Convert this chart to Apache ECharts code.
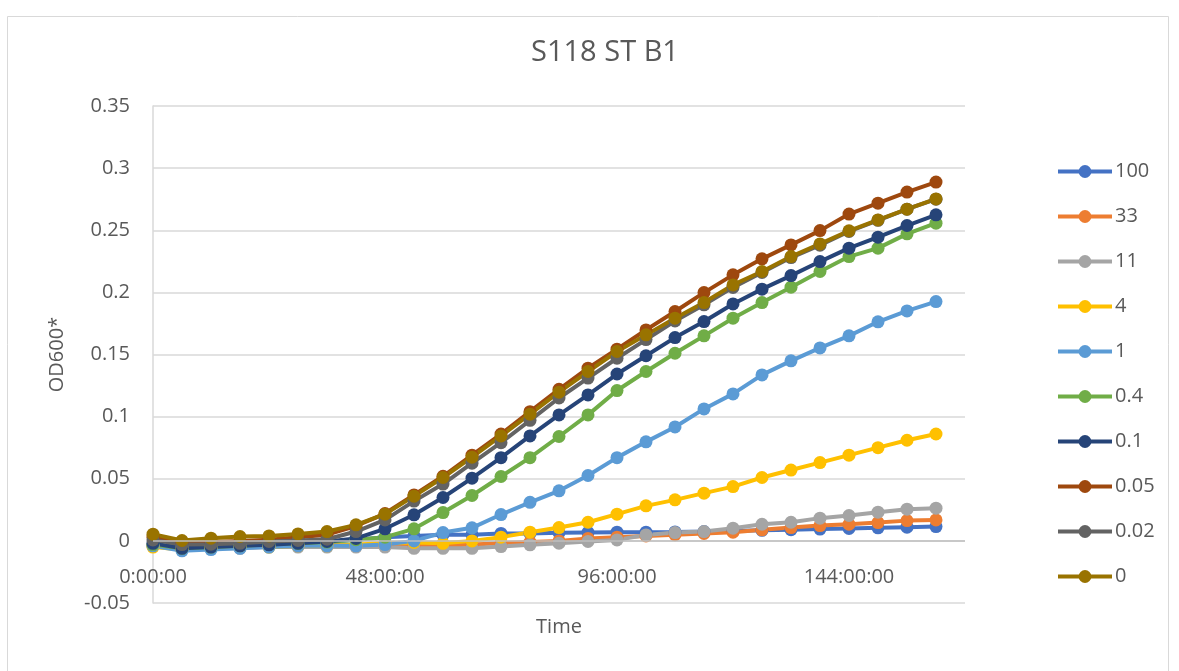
<!DOCTYPE html>
<html>
<head>
<meta charset="utf-8">
<script src="https://cdn.jsdelivr.net/npm/echarts@6/dist/echarts.min.js"></script>
<style>
  html, body { margin: 0; padding: 0; background: #ffffff; }
  #chart { width: 1179px; height: 671px; }
</style>
</head>
<body>
<div id="chart"></div>
<script>
// Sampling times in hours (every 6 h)
const hours = [0, 6, 12, 18, 24, 30, 36, 42, 48, 54, 60, 66, 72, 78, 84, 90, 96, 102, 108, 114, 120, 126, 132, 138, 144, 150, 156, 162];

const seriesNames = ['100', '33', '11', '4', '1', '0.4', '0.1', '0.05', '0.02', '0'];
const seriesColors = ['#4472C4', '#ED7D31', '#A5A5A5', '#FFC000', '#5B9BD5', '#70AD47', '#264478', '#9E480E', '#636363', '#997300'];

const od100 = [-0.003, -0.005, -0.004, -0.003, -0.003, -0.002, -0.001, 0.001, 0.003, 0.004, 0.005, 0.005, 0.006, 0.006, 0.0065, 0.0068, 0.007, 0.007, 0.0072, 0.0075, 0.008, 0.0085, 0.009, 0.0095, 0.010, 0.0105, 0.011, 0.0115];
const od33 = [-0.004, -0.006, -0.005, -0.004, -0.004, -0.003, -0.003, -0.004, -0.004, -0.004, -0.004, -0.003, -0.002, -0.001, 0.000, 0.002, 0.003, 0.004, 0.005, 0.006, 0.007, 0.0089, 0.0107, 0.0123, 0.0134, 0.0147, 0.0163, 0.0169];
const od11 = [-0.004, -0.007, -0.006, -0.006, -0.005, -0.005, -0.005, -0.005, -0.005, -0.006, -0.006, -0.006, -0.0046, -0.0032, -0.0019, -0.0005, 0.0008, 0.0048, 0.0067, 0.0075, 0.0102, 0.0134, 0.015, 0.0183, 0.0204, 0.0231, 0.0255, 0.0263];
const od4 = [-0.005, -0.007, -0.006, -0.005, -0.005, -0.004, -0.004, -0.003, -0.002, -0.0013, -0.002, 0.000, 0.003, 0.007, 0.0107, 0.015, 0.0215, 0.0282, 0.033, 0.0384, 0.0437, 0.051, 0.057, 0.063, 0.069, 0.075, 0.081, 0.086];
const od1 = [-0.004, -0.008, -0.007, -0.006, -0.005, -0.004, -0.004, -0.004, -0.003, 0.000, 0.0067, 0.0105, 0.0212, 0.031, 0.0403, 0.0526, 0.067, 0.0797, 0.0917, 0.1062, 0.1183, 0.1336, 0.1449, 0.1553, 0.165, 0.1763, 0.1851, 0.1926];
const od04 = [-0.003, -0.006, -0.005, -0.004, -0.003, -0.002, -0.001, 0.001, 0.003, 0.0097, 0.0228, 0.0365, 0.0518, 0.067, 0.084, 0.1014, 0.121, 0.1363, 0.151, 0.165, 0.1792, 0.1918, 0.2042, 0.2168, 0.2288, 0.2356, 0.2471, 0.2557];
const od01 = [-0.002, -0.006, -0.005, -0.004, -0.0032, -0.002, -0.0005, 0.002, 0.0097, 0.021, 0.0349, 0.0505, 0.067, 0.0845, 0.1014, 0.1175, 0.1343, 0.149, 0.1636, 0.1765, 0.1907, 0.2026, 0.2135, 0.2248, 0.2356, 0.2444, 0.2538, 0.2624];
const od005 = [0.003, -0.002, -0.001, 0.000, 0.001, 0.003, 0.005, 0.012, 0.022, 0.037, 0.052, 0.069, 0.086, 0.104, 0.122, 0.139, 0.1543, 0.1698, 0.1846, 0.1998, 0.2141, 0.227, 0.2382, 0.2497, 0.263, 0.2718, 0.2807, 0.2888];
const od002 = [0.0008, -0.003, -0.0027, -0.002, -0.0005, 0.0003, 0.0013, 0.0075, 0.0169, 0.032, 0.0457, 0.0625, 0.079, 0.097, 0.115, 0.131, 0.147, 0.162, 0.177, 0.190, 0.204, 0.216, 0.228, 0.238, 0.249, 0.258, 0.267, 0.275];
const od0 = [0.0054, 0.0003, 0.0022, 0.0035, 0.004, 0.0056, 0.0075, 0.0129, 0.0215, 0.036, 0.051, 0.0674, 0.0845, 0.102, 0.1197, 0.1363, 0.1524, 0.1658, 0.1792, 0.1918, 0.206, 0.2168, 0.2288, 0.239, 0.2495, 0.2583, 0.267, 0.2752];

const seriesValues = [od100, od33, od11, od4, od1, od04, od01, od005, od002, od0];

const textColor = '#595959';
const fontFamily = '"Open Sans", "Noto Sans", sans-serif';

const chart = echarts.init(document.getElementById('chart'), null, { renderer: 'canvas' });

const series = seriesNames.map((name, k) => ({
  name: name,
  type: 'line',
  data: hours.map((h, i) => [h, seriesValues[k][i]]),
  symbol: 'circle',
  symbolSize: 13,
  showSymbol: true,
  lineStyle: { width: 4, color: seriesColors[k] },
  itemStyle: { color: seriesColors[k] },
  emphasis: { disabled: true },
  animation: false
}));

// Horizontal axis line at OD = 0, drawn beneath the curves
series.unshift({
  type: 'line',
  data: [],
  silent: true,
  z: 1,
  markLine: {
    silent: true,
    symbol: 'none',
    label: { show: false },
    lineStyle: { color: '#BFBFBF', width: 1.5, type: 'solid' },
    data: [{ yAxis: 0 }]
  }
});

chart.setOption({
  backgroundColor: '#ffffff',
  animation: false,
  title: {
    text: 'S118 ST B1',
    left: 600,
    textAlign: 'center',
    top: 33,
    textStyle: { color: textColor, fontSize: 29, fontWeight: 'normal', fontFamily: fontFamily }
  },
  graphic: [{
    type: 'rect',
    shape: { x: 7.5, y: 16.5, width: 1161, height: 670 },
    style: { fill: 'none', stroke: '#D9D9D9', lineWidth: 1 },
    silent: true
  }],
  legend: {
    orient: 'vertical',
    left: 1056,
    top: 158,
    padding: 0,
    itemWidth: 54,
    itemHeight: 16,
    itemGap: 18.0,
    data: seriesNames,
    lineStyle: { width: 4 },
    textStyle: { color: textColor, fontSize: 20, lineHeight: 27, fontFamily: fontFamily, padding: [0, 0, 0, -2] }
  },
  grid: { left: 153, right: 214, top: 106, bottom: 68, containLabel: false, outerBoundsMode: 'none' },
  xAxis: {
    type: 'value',
    min: 0,
    max: 168,
    interval: 48,
    name: 'Time',
    nameLocation: 'middle',
    nameGap: 14,
    nameTextStyle: { color: textColor, fontSize: 20, fontFamily: fontFamily, verticalAlign: 'top' },
    axisLine: { onZero: false, show: false },
    axisTick: { show: false },
    splitLine: { show: false },
    axisLabel: {
      inside: true,
      showMaxLabel: false,
      color: textColor, fontSize: 20, fontFamily: fontFamily, margin: 16,
      formatter: v => (v >= 168 ? '' : v + ':00:00')
    }
  },
  yAxis: {
    type: 'value',
    min: -0.05,
    max: 0.35,
    interval: 0.05,
    name: 'OD600*',
    nameLocation: 'middle',
    nameGap: 86,
    nameTextStyle: { color: textColor, fontSize: 20, fontFamily: fontFamily },
    axisLine: { show: true, onZero: false, lineStyle: { color: '#D9D9D9', width: 1.5 } },
    axisTick: { show: false },
    splitLine: { show: true, lineStyle: { color: '#D9D9D9', width: 1.5 } },
    axisLabel: {
      color: textColor, fontSize: 20, fontFamily: fontFamily, margin: 23,
      formatter: v => String(parseFloat(v.toFixed(2)))
    }
  },
  series: series
});
</script>
</body>
</html>
